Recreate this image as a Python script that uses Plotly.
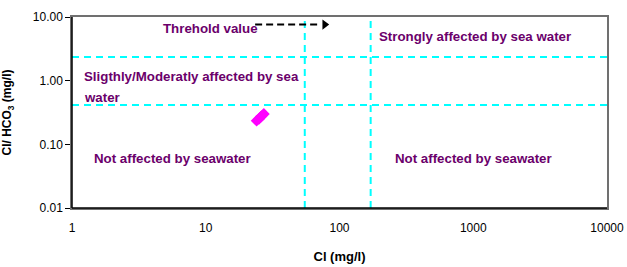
import math
import plotly.graph_objects as go

# Data
cl_values = [24.0, 25.0, 25.8, 26.5, 27.2]
ratio_values = [0.235, 0.25, 0.27, 0.285, 0.30]

cl_thresholds = [55.0, 171.0]
ratio_thresholds = [2.36, 0.415]

threshold_arrow_x = [23.4, 71.0]
threshold_arrow_y = [7.6, 7.6]
arrow_head_x = [77.5]

x_tickvals = [1, 10, 100, 1000, 10000]
x_ticktext = ["1", "10", "100", "1000", "10000"]
y_tickvals = [0.01, 0.1, 1, 10]
y_ticktext = ["0.01", "0.10", "1.00", "10.00"]

x_range = [1, 10000]
y_range = [0.01, 10]

FONT = "Liberation Sans, Arial, sans-serif"

fig = go.Figure()

cyan = "#00FFFF"
for xv in cl_thresholds:
    fig.add_trace(go.Scatter(x=[xv, xv], y=y_range, mode="lines",
                             line=dict(color=cyan, width=2, dash="7px,5px"),
                             hoverinfo="skip", showlegend=False))
for yv in ratio_thresholds:
    fig.add_trace(go.Scatter(x=x_range, y=[yv, yv], mode="lines",
                             line=dict(color=cyan, width=2, dash="7px,5px"),
                             hoverinfo="skip", showlegend=False))

# threshold arrow
fig.add_trace(go.Scatter(x=threshold_arrow_x, y=threshold_arrow_y, mode="lines",
                         line=dict(color="black", width=2, dash="7px,4px"),
                         hoverinfo="skip", showlegend=False))
fig.add_trace(go.Scatter(x=arrow_head_x, y=[threshold_arrow_y[1]], mode="markers",
                         marker=dict(symbol="triangle-right", size=9, color="black"),
                         hoverinfo="skip", showlegend=False))

fig.add_trace(go.Scatter(x=cl_values, y=ratio_values, mode="markers",
                         marker=dict(symbol="diamond", size=9, color="#FF00FF"),
                         showlegend=False))

purple = "#6B006B"
labels = [
    ("Threhold value", 0.665, 0.823),
    ("Strongly affected by sea water", 2.28, 0.697),
    ("Sligthly/Moderatly affected by sea", 0.077, 0.069),
    ("water", 0.077, -0.261),
    ("Not affected by seawater", 0.148, -1.223),
    ("Not affected by seawater", 2.40, -1.223),
]
for text, lx, ly in labels:
    fig.add_annotation(x=lx, y=ly, xref="x", yref="y", text=text, showarrow=False,
                       xanchor="left", yanchor="middle", align="left",
                       font=dict(family=FONT, size=13.3, color=purple, weight="bold"))

fig.update_xaxes(type="log", range=[math.log10(x_range[0]), math.log10(x_range[1])],
                 tickvals=x_tickvals, ticktext=x_ticktext, showgrid=False, zeroline=False,
                 showline=True, linecolor="#707070", linewidth=1.5, mirror=True,
                 ticks="outside", ticklen=8, tickcolor="rgba(0,0,0,0)",
                 tickfont=dict(family=FONT, size=12, color="black"),
                 title=dict(text="<b>Cl (mg/l)</b>", standoff=18,
                            font=dict(family=FONT, size=13, color="black")))
fig.update_yaxes(type="log", range=[math.log10(y_range[0]), math.log10(y_range[1])],
                 tickvals=y_tickvals, ticktext=y_ticktext, showgrid=False, zeroline=False,
                 showline=True, linecolor="#707070", linewidth=1.5, mirror=True,
                 ticks="outside", ticklen=5, tickcolor="black",
                 tickfont=dict(family=FONT, size=12, color="black"),
                 title=dict(text="<b>Cl/ HCO<sub>3</sub> (mg/l)</b>", standoff=20,
                            font=dict(family=FONT, size=12, color="black")))

fig.add_shape(type="line", xref="paper", yref="paper", x0=0, x1=0, y0=0, y1=1,
              line=dict(color="black", width=1.5))
fig.add_shape(type="line", xref="paper", yref="paper", x0=0, x1=1, y0=0, y1=0,
              line=dict(color="black", width=1.5))

fig.update_layout(width=627, height=267, margin=dict(l=72, r=20, t=17, b=59, autoexpand=False),
                  plot_bgcolor="white", paper_bgcolor="white")

fig.write_html("out.html", config={"displayModeBar": False},
               post_script="document.body.style.margin='0';document.body.style.overflow='hidden';")
